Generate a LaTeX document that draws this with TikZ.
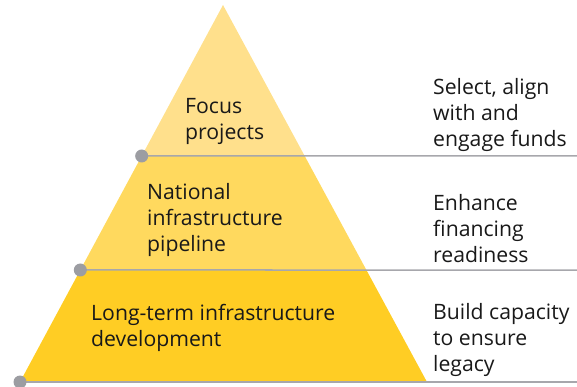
\documentclass[tikz,border=0pt]{standalone}
\usepackage{fontspec}
\setmainfont{Open Sans}
\usetikzlibrary{%
  positioning,
  calc,
}

\definecolor{topband}{HTML}{FFE08C}
\definecolor{midband}{HTML}{FFD95E}
\definecolor{lowband}{HTML}{FFCD24}
\definecolor{ruleline}{HTML}{A7A7AC}
\definecolor{knobgray}{HTML}{9C9DA2}

\begin{document}
\begin{tikzpicture}[%
           x=1pt, y=-1pt,
           tier/.style={
             % text inside the pyramid
             anchor=west,
             align=left,
             inner sep=0pt,
             font=\fontsize{21.2}{26}\selectfont,
             text=black!90,
           },
           goal/.style={
             % text on the right
             tier,
           },
           divider/.style={
             line width=1.5pt,
             color=ruleline,
           },
           knob/.style={
             circle,
             fill=knobgray,
             inner sep=0pt,
             minimum size=13pt,
           }]

         \useasboundingbox (0,0) rectangle (577,387);

         % pyramid corners and band edges
         \coordinate (apex) at (223,5);
         \coordinate (baseL) at (20,382);
         \coordinate (baseR) at (427,382);
         \coordinate (topL) at ($ (apex)!151/377!(baseL) $);
         \coordinate (topR) at ($ (apex)!151/377!(baseR) $);
         \coordinate (midL) at ($ (apex)!265/377!(baseL) $);
         \coordinate (midR) at ($ (apex)!265/377!(baseR) $);

         \fill[lowband] (midL) -- (midR) -- (baseR) -- (baseL) -- cycle;
         \fill[midband] (topL) -- (topR) -- (midR) -- (midL) -- cycle;
         \fill[topband] (apex) -- (topR) -- (topL) -- cycle;

         \coordinate (endA) at (577,156);
         \coordinate (endB) at (577,270);
         \coordinate (endC) at (577,382);
         \draw[divider] (topL) -- (endA);
         \draw[divider] (midL) -- (endB);
         \draw[divider] (baseL) -- (endC);

         \node[knob] (dotA) at (topL) {};
         \node[knob] (dotB) at (midL) {};
         \node[knob] (dotC) at (baseL) {};

         \node[tier] (focus) at (185,121) {Focus\\projects};
         \node[tier] (national) at (147,220) {National\\infrastructure\\pipeline};
         \node[tier] (longterm) at (91,328) {Long-term infrastructure\\development};

         \node[goal] (select) at (433,114.5) {Select, align\\with and\\engage funds};
         \node[goal] (enhance) at (433,228.5) {Enhance\\financing\\readiness};
         \node[goal] (build) at (433,340) {Build capacity\\to ensure\\legacy};
       \end{tikzpicture}
\end{document}
